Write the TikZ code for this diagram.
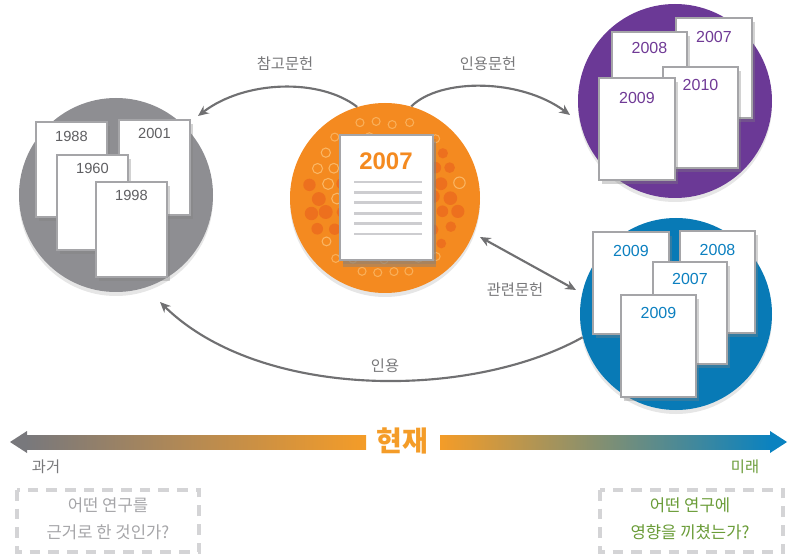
\documentclass[tikz,border=0pt]{standalone}
\usepackage{fontspec}
\setmainfont{Liberation Sans}
\newfontfamily\kr{Noto Sans CJK KR}
\usetikzlibrary{arrows.meta,shadows,fit,calc}
\definecolor{grayc}{RGB}{142,142,146}
\definecolor{orangec}{RGB}{244,138,32}
\definecolor{orangedk}{RGB}{236,106,30}
\definecolor{orangelt}{RGB}{250,182,100}
\definecolor{purplec}{RGB}{107,57,150}
\definecolor{bluec}{RGB}{8,122,182}
\definecolor{paperc}{RGB}{165,165,168}
\definecolor{numgray}{RGB}{95,95,98}
\definecolor{numpurple}{RGB}{112,58,150}
\definecolor{numblue}{RGB}{12,128,192}
\definecolor{arrc}{RGB}{112,112,114}
\definecolor{labgray}{RGB}{120,120,122}
\definecolor{qgray}{RGB}{165,165,168}
\definecolor{greenc}{RGB}{106,156,56}
\definecolor{boxgray}{RGB}{212,212,214}
\definecolor{linegray}{RGB}{205,205,208}
\definecolor{barleft}{RGB}{120,120,124}
\definecolor{barorange}{RGB}{244,156,40}
\definecolor{barblue}{RGB}{10,130,192}
\begin{document}
\begin{tikzpicture}[x=0.75pt,y=-0.75pt,
  paper/.style={draw=paperc, line width=1.8pt, fill=white, inner sep=0pt,
    drop shadow={opacity=0.35, shadow xshift=2pt, shadow yshift=-3pt}},
  bigc/.style={circle, inner sep=0pt},
  num/.style={font=\fontsize{11}{12}\selectfont, text=numgray},
  nump/.style={font=\fontsize{12}{13}\selectfont, text=numpurple},
  numb/.style={font=\fontsize{12}{13}\selectfont, text=numblue},
  arr/.style={draw=arrc, line width=1.6pt, -{Stealth[length=8pt,width=7pt]}},
  lab/.style={font=\kr\fontsize{11.5}{13}\selectfont, text=labgray},
  dbox/.style={draw=boxgray, line width=3pt, dash pattern=on 8pt off 6pt},
]
\useasboundingbox (0,0) rectangle (797,556);

% circles
\node[bigc, fill=grayc, minimum size=145.5pt,
  drop shadow={opacity=0.2, shadow xshift=0pt, shadow yshift=-3pt}] (gc) at (116,195) {};
\node[bigc, fill=orangec, minimum size=142.5pt,
  drop shadow={opacity=0.2, shadow xshift=0pt, shadow yshift=-3pt}] (oc) at (385,198) {};
\node[bigc, fill=purplec, minimum size=145.5pt,
  drop shadow={opacity=0.2, shadow xshift=0pt, shadow yshift=-3pt}] (pc) at (675,101) {};
\node[bigc, fill=bluec, minimum size=144pt,
  drop shadow={opacity=0.2, shadow xshift=0pt, shadow yshift=-3pt}] (bc) at (676,314) {};

% orange dot pattern
\pgfmathsetseed{7}
\begin{scope}[shift={(385,198)}]
\foreach \i in {-6,...,6}{
  \foreach \j in {-6,...,6}{
    \pgfmathsetmacro\px{\i*16.5+mod(abs(\j),2)*8.25+(rnd-0.5)*4}
    \pgfmathsetmacro\py{\j*15+(rnd-0.5)*4}
    \pgfmathsetmacro\dd{sqrt((\px/10)*(\px/10)+(\py/10)*(\py/10))}
    \pgfmathsetmacro\w{max(0,1-abs(\py)/85)*min(1,abs(\px)/60)}
    \pgfmathsetmacro\q{rnd}
    \pgfmathsetmacro\rr{3.2+5*\w*(0.5+0.5*\q)}
    \pgfmathsetmacro\lim{8.6-\rr/10}
    \ifdim\dd pt<\lim pt
      \ifdim\w pt>0.35pt
        \ifdim\q pt>0.25pt
          \fill[orangedk, opacity=0.8] (\px,\py) circle[radius=\rr*0.75pt];
        \else
          \draw[orangelt, line width=0.8pt] (\px,\py) circle[radius=\rr*0.75pt];
        \fi
      \else
        \draw[orangelt, line width=0.8pt, opacity=0.85] (\px,\py) circle[radius=3pt];
      \fi
    \fi
  }
}
\end{scope}

% gray docs (past)
\node[paper, fit={(36,122) (107,217)}] (g1) {};
\node[num] (g1t) at ($(g1.north)+(0,16)$) {1988};
\node[paper, fit={(119,120) (190,215)}] (g2) {};
\node[num] (g2t) at ($(g2.north)+(0,15)$) {2001};
\node[paper, fit={(57,155) (128,250)}] (g3) {};
\node[num] (g3t) at ($(g3.north)+(0,15)$) {1960};
\node[paper, fit={(96,182) (167,277)}] (g4) {};
\node[num] (g4t) at ($(g4.north)+(0,15)$) {1998};

% center doc
\node[paper, fit={(340,135) (433,260)},
  drop shadow={opacity=0.45, shadow xshift=2pt, shadow yshift=-5pt}] (cd) {};
\node[font=\bfseries\fontsize{18}{20}\selectfont, text=orangec] (cdt) at (386,161) {2007};
\foreach \k in {0,...,5}{
  \draw[linegray, line width=2pt] (354,182+\k*10.4) -- (422,182+\k*10.4);
}

% purple docs (citing)
\node[paper, fit={(676,18) (752,118)}] (p1) {};
\node[nump] (p1t) at ($(p1.north)+(0,20)$) {2007};
\node[paper, fit={(612,32) (687,130)}] (p2) {};
\node[nump] (p2t) at ($(p2.north)+(0,17)$) {2008};
\node[paper, fit={(663,67) (738,168)}] (p3) {};
\node[nump] (p3t) at ($(p3.north)+(0,19)$) {2010};
\node[paper, fit={(599,78) (675,180)}] (p4) {};
\node[nump] (p4t) at ($(p4.north)+(0,21)$) {2009};

% blue docs (related)
\node[paper, fit={(593,232) (669,334)}] (b1) {};
\node[numb] (b1t) at ($(b1.north)+(0,20)$) {2009};
\node[paper, fit={(680,231) (755,333)}] (b2) {};
\node[numb] (b2t) at ($(b2.north)+(0,20)$) {2008};
\node[paper, fit={(653,262) (727,364)}] (b3) {};
\node[numb] (b3t) at ($(b3.north)+(0,18)$) {2007};
\node[paper, fit={(621,295) (696,397)}] (b4) {};
\node[numb] (b4t) at ($(b4.north)+(0,19)$) {2009};

% connectors
\coordinate (refend) at (198,116);
\coordinate (citeend) at (570,115);
\coordinate (relA) at (480,237);
\coordinate (relB) at (576,290);
\coordinate (useend) at (160,302);
\draw[arr] (oc.107) .. controls (320,78) and (245,80) .. (refend);
\draw[arr] (oc.74) .. controls (440,78) and (520,78) .. (citeend);
\draw[draw=arrc, line width=1.6pt, {Stealth[length=8pt,width=7pt]}-{Stealth[length=8pt,width=7pt]}] (relA) -- (relB);
\draw[arr] (bc.194) .. controls (470,400) and (260,400) .. (useend);

\node[lab] (l1) at (285,64) {참고문헌};
\node[lab] (l2) at (488,64) {인용문헌};
\node[lab] (l3) at (515,290) {관련문헌};
\node[lab] (l4) at (385,366) {인용};

% timeline
\shade[left color=barleft, right color=barorange] (25,435) rectangle (366,449);
\fill[barleft] (10,442) -- (27,431) -- (27,453) -- cycle;
\shade[left color=barorange, right color=barblue] (440,435) rectangle (772,449);
\fill[barblue] (787,442) -- (770,431) -- (770,453) -- cycle;
\node[font=\kr\bfseries\fontsize{21}{23}\selectfont, text=barorange] (now) at (402,441) {현재};
\node[lab] (past) at (46,467) {과거};
\node[font=\kr\fontsize{11.5}{13}\selectfont, text=greenc] (fut) at (745,467) {미래};

% question boxes
\draw[dbox] (17,490) rectangle (199,552);
\node[font=\kr\fontsize{12.5}{20}\selectfont, text=qgray, align=center] (q1) at (108,519) {어떤 연구를\\근거로 한 것인가?};
\draw[dbox] (600,490) rectangle (783,552);
\node[font=\kr\fontsize{12.5}{20}\selectfont, text=greenc, align=center] (q2) at (690,519) {어떤 연구에\\영향을 끼쳤는가?};
\end{tikzpicture}
\end{document}
